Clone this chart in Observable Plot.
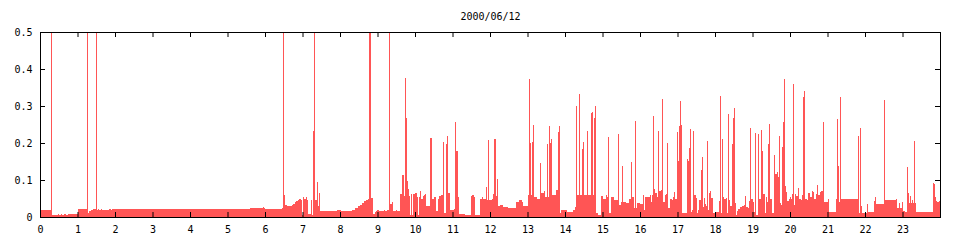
<!DOCTYPE html>
<html>
<head>
<meta charset="utf-8">
<script src="https://cdn.jsdelivr.net/npm/d3@7"></script>
<script src="https://cdn.jsdelivr.net/npm/@observablehq/plot@0.6"></script>
<style>
  html, body { margin: 0; padding: 0; background: #fff; }
  #chart svg { display: block; }
</style>
</head>
<body>
<div id="chart"></div>
<script>
const title = "2000/06/12";
const hourTicks = [0,1,2,3,4,5,6,7,8,9,10,11,12,13,14,15,16,17,18,19,20,21,22,23];
const valueTicks = [0, 0.1, 0.2, 0.3, 0.4, 0.5];

// step series: [hour where the level starts, level]
const night = [
  [0,0.02],[0.293,0.6],[0.32,0.006],[0.48,0.009],[0.51,0.006],[0.56,0.009],[0.59,0.006],
  [0.65,0.009],[0.68,0.006],[0.75,0.009],[1.0,0.022],[1.26,0.6],[1.287,0.012],[1.31,0.016],
  [1.36,0.02],[1.40,0.022],[1.485,0.6],[1.51,0.02],[1.55,0.022],[1.58,0.02],[1.63,0.022],
  [1.66,0.02],[1.85,0.022],[1.88,0.02],[1.92,0.022],[5.6,0.025],[5.95,0.027],[5.98,0.023],
  [6.01,0.022],[6.44,0.025],[6.49,0.6],[6.515,0.06],[6.54,0.032],[6.59,0.03],[6.71,0.033],
  [6.75,0.036],[6.79,0.04],[6.83,0.043],[6.87,0.046],[6.91,0.049],[6.96,0.046],[6.99,0.005],
  [7.02,0.053],[7.05,0.05],[7.08,0.055],[7.11,0.046],[7.14,0.008],[7.23,0.046],[7.26,0.005],
  [7.29,0.232],[7.31,0.6],[7.34,0.045],[7.38,0.095],[7.40,0.03],[7.43,0.065],[7.46,0.017],
  [7.92,0.02],[8.03,0.017],[8.32,0.02],[8.41,0.024],[8.48,0.029],[8.53,0.033],[8.59,0.038],
  [8.64,0.042],[8.69,0.046],[8.75,0.05],[8.77,0.6],[8.83,0.051],[8.88,0.009],[8.93,0.013],
  [8.96,0.015],[8.99,0.019],[9.04,0.017],[9.17,0.02],[9.2,0.017],[9.25,0.02],[9.31,0.6],
  [9.33,0.036],[9.39,0.041],[9.41,0.017],[9.49,0.02],[9.52,0.017]
];
const morning = [
  [9.6,0.062],[9.65,0.114],[9.71,0.056],[9.73,0.377],[9.76,0.268],[9.79,0.098],[9.81,0.077],
  [9.84,0.057],[9.87,0.005],[9.89,0.062],[9.92,0.005],[9.95,0.062],[9.99,0.064],[10.04,0.055],
  [10.07,0.005],[10.1,0.053],[10.12,0.071],[10.15,0.05],[10.2,0.058],[10.23,0.06],[10.26,0.062],
  [10.29,0.03],[10.41,0.214],[10.44,0.05],[10.51,0.053],[10.55,0.015],[10.6,0.05],[10.65,0.057],
  [10.7,0.06],[10.74,0.203],[10.77,0.01],[10.82,0.197],[10.84,0.219],[10.87,0.064],[10.92,0.222],
  [10.94,0.02],[11.0,0.019],[11.04,0.021],[11.076,0.257],[11.10,0.178],[11.14,0.055],[11.17,0.008],
  [11.32,0.057],[11.34,0.005],[11.48,0.057],[11.53,0.06],[11.57,0.055],[11.6,0.005],[11.73,0.05],
  [11.79,0.055],[11.82,0.05],[11.88,0.08],[11.91,0.047],[11.95,0.208],[11.98,0.047],[12.06,0.05],
  [12.09,0.061],[12.116,0.211],[12.15,0.057],[12.187,0.102],[12.22,0.03],[12.27,0.032],
  [12.35,0.028],[12.49,0.023],[12.69,0.04],[12.77,0.045],[12.84,0.04],[12.89,0.03],[13.02,0.06],
  [13.049,0.373],[13.076,0.2],[13.10,0.06],[13.129,0.204],[13.156,0.249],[13.18,0.055],
  [13.25,0.05],[13.333,0.147],[13.36,0.064],[13.44,0.071],[13.476,0.055],[13.529,0.197],
  [13.556,0.055],[13.582,0.246],[13.609,0.2],[13.636,0.211],[13.662,0.06],[13.77,0.073],
  [13.804,0.231],[13.831,0.246],[13.858,0.01],[13.9,0.02],[14.04,0.014],[14.2,0.02],[14.267,0.028]
];
const afternoon = [
  [14.302,0.3],[14.329,0.06],[14.382,0.332],[14.409,0.06],[14.462,0.184],[14.489,0.202],
  [14.516,0.06],[14.578,0.232],[14.604,0.06],[14.684,0.282],[14.711,0.285],[14.738,0.06],
  [14.773,0.267],[14.8,0.3],[14.827,0.01],[14.88,0.005],[14.95,0.057],[15.02,0.048],[15.08,0.06],
  [15.12,0.055],[15.156,0.217],[15.182,0.01],[15.22,0.055],[15.3,0.046],[15.422,0.224],
  [15.449,0.032],[15.49,0.04],[15.52,0.139],[15.547,0.04],[15.62,0.039],[15.7,0.05],[15.769,0.148],
  [15.796,0.055],[15.84,0.023],[15.876,0.259],[15.902,0.023],[15.93,0.039],[16.0,0.035],
  [16.071,0.06],[16.098,0.019],[16.13,0.053],[16.2,0.055],[16.26,0.06],[16.29,0.041],[16.32,0.06],
  [16.356,0.273],[16.382,0.077],[16.41,0.066],[16.44,0.055],[16.489,0.232],[16.516,0.069],
  [16.55,0.073],[16.596,0.319],[16.622,0.041],[16.66,0.06],[16.7,0.062],[16.729,0.199],
  [16.756,0.023],[16.8,0.05],[16.85,0.046],[16.89,0.053],[16.916,0.068],[16.942,0.048],
  [16.996,0.229],[17.022,0.151],[17.049,0.246],[17.076,0.313],[17.102,0.25],[17.129,0.01],
  [17.244,0.156],[17.271,0.151],[17.298,0.186],[17.324,0.238],[17.351,0.014],[17.378,0.02],
  [17.422,0.232],[17.449,0.06],[17.48,0.051],[17.511,0.01],[17.55,0.02],[17.58,0.046],
  [17.618,0.127],[17.644,0.162],[17.671,0.028],[17.7,0.052],[17.73,0.035],[17.76,0.03],
  [17.778,0.205],[17.804,0.019],[17.83,0.064],[17.86,0.07],[17.89,0.052],[17.938,0.01],
  [17.97,0.012],[18.03,0.014],[18.116,0.043],[18.142,0.327],[18.169,0.01],[18.196,0.211],
  [18.222,0.053],[18.25,0.049],[18.28,0.052],[18.311,0.012],[18.347,0.278],[18.373,0.046],
  [18.40,0.031],[18.444,0.197],[18.471,0.268],[18.498,0.294],[18.524,0.037],[18.551,0.005],
  [18.578,0.017],[18.62,0.022],[18.66,0.027],[18.72,0.03],[18.78,0.032],[18.809,0.057],
  [18.836,0.026],[18.88,0.025],[18.91,0.043],[18.942,0.241],[18.969,0.05],[19.0,0.041],[19.03,0.014]
];
const evening = [
  [19.076,0.226],[19.102,0.005],[19.156,0.224],[19.182,0.05],[19.236,0.235],[19.262,0.178],
  [19.289,0.062],[19.32,0.01],[19.35,0.055],[19.38,0.041],[19.404,0.197],[19.431,0.035],
  [19.449,0.251],[19.476,0.05],[19.53,0.012],[19.56,0.037],[19.582,0.168],[19.609,0.116],
  [19.636,0.116],[19.662,0.122],[19.689,0.107],[19.716,0.219],[19.742,0.037],[19.77,0.032],
  [19.796,0.19],[19.822,0.258],[19.849,0.373],[19.876,0.084],[19.902,0.067],[19.929,0.044],
  [19.96,0.049],[19.99,0.055],[20.02,0.05],[20.044,0.061],[20.089,0.359],[20.116,0.032],
  [20.14,0.062],[20.17,0.057],[20.2,0.066],[20.222,0.079],[20.249,0.05],[20.28,0.046],
  [20.31,0.059],[20.356,0.323],[20.382,0.341],[20.409,0.05],[20.44,0.046],[20.49,0.064],
  [20.53,0.055],[20.58,0.071],[20.61,0.068],[20.65,0.049],[20.69,0.062],[20.729,0.086],
  [20.756,0.06],[20.79,0.068],[20.82,0.07],[20.871,0.256],[20.898,0.041],[21.004,0.048],
  [21.031,0.014],[21.227,0.049],[21.244,0.265],[21.271,0.138],[21.307,0.041],[21.342,0.324],
  [21.369,0.049],[21.804,0.219],[21.831,0.01],[21.858,0.241],[21.884,0.03],[21.911,0.012],
  [22.044,0.035],[22.071,0.014],[22.249,0.043],[22.276,0.054],[22.302,0.035],[22.498,0.316],
  [22.524,0.046],[22.827,0.05],[22.862,0.025],[22.907,0.039],[22.933,0.025],[22.978,0.041],
  [23.022,0.017],[23.07,0.014],[23.111,0.136],[23.138,0.066],[23.164,0.039],[23.191,0.058],
  [23.218,0.039],[23.25,0.046],[23.271,0.039],[23.298,0.205],[23.324,0.039],[23.351,0.0135],
  [23.538,0.041],[23.556,0.0135],[23.822,0.093],[23.849,0.09],[23.876,0.055],[23.902,0.044],
  [23.93,0.041],[23.96,0.044],[24,0.044]
];

const series = [...night, ...morning, ...afternoon, ...evening].map(([h, v]) => ({h, v}));

const W = 960, H = 240;
const mL = 40, mR = 20, mT = 32, mB = 23;
const frameW = W - mL - mR, frameH = H - mT - mB;
const tick = 5;
const font = "'DejaVu Sans Mono', monospace";

const chart = Plot.plot({
  width: W,
  height: H,
  marginLeft: mL,
  marginRight: mR,
  marginTop: mT,
  marginBottom: mB,
  style: {fontFamily: font, fontSize: "10px", background: "#fff", color: "#000", overflow: "visible"},
  x: {domain: [0, 24]},
  y: {domain: [0, 0.5]},
  marks: [
    Plot.areaY(series, {x: "h", y: "v", curve: "step-after", fill: "#ff5555", clip: true, shapeRendering: "crispEdges"}),
    Plot.tickX(hourTicks, {x: d => d, insetTop: frameH - tick, stroke: "#000"}),
    Plot.tickX(hourTicks, {x: d => d, insetBottom: frameH - tick, stroke: "#000"}),
    Plot.tickY(valueTicks, {y: d => d, insetRight: frameW - tick, stroke: "#000"}),
    Plot.tickY(valueTicks, {y: d => d, insetLeft: frameW - tick, stroke: "#000"}),
    Plot.frame({stroke: "#000"}),
    Plot.axisX(hourTicks, {tickSize: 0, tickPadding: 8, label: null, tickFormat: d => String(d), fontSize: 10}),
    Plot.axisY(valueTicks, {tickSize: 0, tickPadding: 8, label: null, tickFormat: d => String(d), fontSize: 10}),
    Plot.text([title], {text: d => d, frameAnchor: "top", lineAnchor: "bottom", dy: -13, fontSize: 10})
  ]
});
document.getElementById("chart").appendChild(chart);
</script>
</body>
</html>
